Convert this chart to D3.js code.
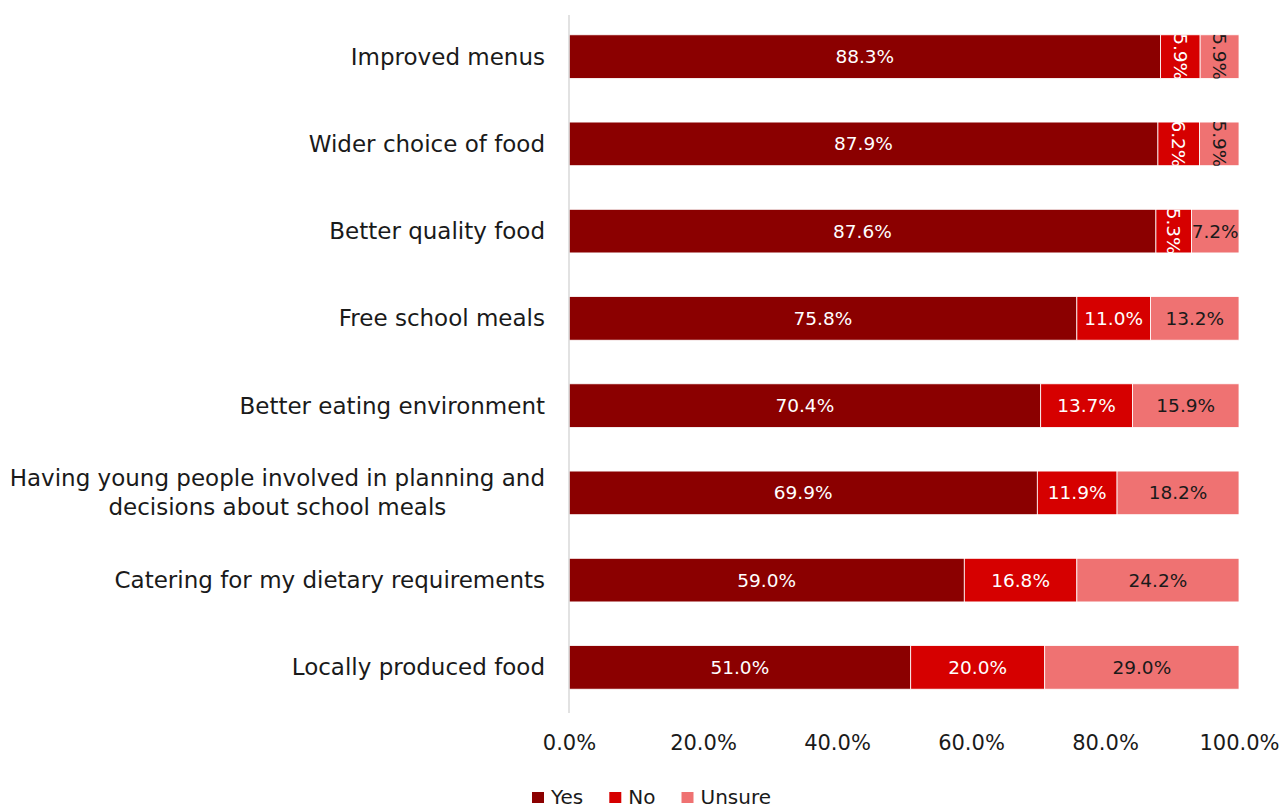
<!DOCTYPE html>
<html>
<head>
<meta charset="utf-8">
<script src="https://cdn.jsdelivr.net/npm/d3@7"></script>
<style>
  html, body { margin: 0; padding: 0; background: #fff; }
  svg { display: block; }
  text { font-family: "DejaVu Sans", Verdana, sans-serif; }
</style>
</head>
<body>
<svg id="chart" width="1281" height="811"></svg>
<script>
// Survey responses: what would make pupils more likely to take school meals
const categories = [
  "Improved menus",
  "Wider choice of food",
  "Better quality food",
  "Free school meals",
  "Better eating environment",
  "Having young people involved in planning and|decisions about school meals",
  "Catering for my dietary requirements",
  "Locally produced food"
];
const seriesNames = ["Yes", "No", "Unsure"];
const yesValues    = [88.3, 87.9, 87.6, 75.8, 70.4, 69.9, 59.0, 51.0];
const noValues     = [5.9, 6.2, 5.3, 11.0, 13.7, 11.9, 16.8, 20.0];
const unsureValues = [5.9, 5.9, 7.2, 13.2, 15.9, 18.2, 24.2, 29.0];
const tickValues   = [0, 20, 40, 60, 80, 100];

const colors = { Yes: "#8b0000", No: "#d60000", Unsure: "#ef7272" };
const labelColors = { Yes: "#ffffff", No: "#ffffff", Unsure: "#1a1a1a" };

const rows = categories.map((c, i) => ({
  category: c, Yes: yesValues[i], No: noValues[i], Unsure: unsureValues[i]
}));

const svg = d3.select("#chart");
const margin = { left: 569, right: 42, top: 13, bottom: 100 };
const width = 1281 - margin.left - margin.right;
const height = 811 - margin.top - margin.bottom;

const x = d3.scaleLinear().domain([0, 100]).range([0, width]);
const y = d3.scaleBand().domain(categories).range([0, height]).paddingInner(0.5).paddingOuter(0.25);

const g = svg.append("g").attr("transform", `translate(${margin.left},${margin.top})`);

const stacked = d3.stack().keys(seriesNames)(rows);

const defs = svg.append("defs");

stacked.forEach(layer => {
  const key = layer.key;
  const lg = g.append("g");
  layer.forEach((d, i) => {
    const x0 = x(d[0]), x1 = x(Math.min(d[1], 100));
    const w = x1 - x0;
    const yy = y(d.data.category), h = y.bandwidth();
    lg.append("rect")
      .attr("x", x0).attr("y", yy).attr("width", w).attr("height", h)
      .attr("fill", colors[key])
      .attr("stroke", "#ffffff").attr("stroke-width", 0.8);

    const clipId = `clip-${key}-${i}`;
    defs.append("clipPath").attr("id", clipId)
      .append("rect")
      .attr("x", margin.left + x0).attr("y", margin.top + yy)
      .attr("width", w).attr("height", h);

    const label = d.data[key].toFixed(1) + "%";
    const cx = x0 + w / 2, cy = yy + h / 2;
    const t = svg.append("g").attr("clip-path", `url(#${clipId})`)
      .append("text")
      .attr("fill", labelColors[key])
      .attr("font-size", 18.5)
      .attr("text-anchor", "middle")
      .attr("dominant-baseline", "central")
      .text(label);
    if (w < 45) {
      t.attr("transform", `translate(${margin.left + cx},${margin.top + cy}) rotate(90)`);
    } else {
      t.attr("x", margin.left + cx).attr("y", margin.top + cy);
    }
  });
});

// Category axis line
g.append("line")
  .attr("x1", 0).attr("x2", 0).attr("y1", 2).attr("y2", height + 2)
  .attr("stroke", "#d9d9d9").attr("stroke-width", 1.5);

// Category labels
categories.forEach(c => {
  const lines = c.split("|");
  const cy = y(c) + y.bandwidth() / 2;
  const t = g.append("text")
    .attr("text-anchor", "middle")
    .attr("font-size", 23)
    .attr("fill", "#1a1a1a");
  const lh = 29;
  lines.forEach((ln, k) => {
    t.append("tspan")
      .attr("x", 0)
      .attr("y", cy + (k - (lines.length - 1) / 2) * lh)
      .attr("dy", "0.35em")
      .text(ln);
  });
  // right-align single lines, centre multi-line blocks on the widest line
  const bb = t.node().getBBox();
  if (lines.length === 1) {
    t.attr("text-anchor", "end");
    t.selectAll("tspan").attr("x", -24);
  } else {
    t.selectAll("tspan").attr("x", -24 - bb.width / 2);
  }
});

// Value axis tick labels
const xAxis = d3.axisBottom(x).tickValues(tickValues)
  .tickFormat(d => d.toFixed(1) + "%").tickSize(0).tickPadding(0);
const ax = g.append("g").attr("transform", `translate(0,${height + 24})`).call(xAxis);
ax.select(".domain").remove();
ax.selectAll("text")
  .attr("font-size", 21)
  .attr("fill", "#1a1a1a")
  .attr("font-family", "DejaVu Sans, Verdana, sans-serif");

// Legend
const legend = svg.append("g").attr("transform", "translate(532,797)");
let lx = 0;
seriesNames.forEach(name => {
  const item = legend.append("g").attr("transform", `translate(${lx},0)`);
  item.append("rect").attr("x", 0).attr("y", -5).attr("width", 12).attr("height", 11)
    .attr("fill", colors[name]);
  const tt = item.append("text").attr("x", 19).attr("y", 0).attr("dy", "0.35em")
    .attr("font-size", 20).attr("fill", "#1a1a1a").text(name);
  lx += 19 + tt.node().getComputedTextLength() + 26;
});
</script>
</body>
</html>
